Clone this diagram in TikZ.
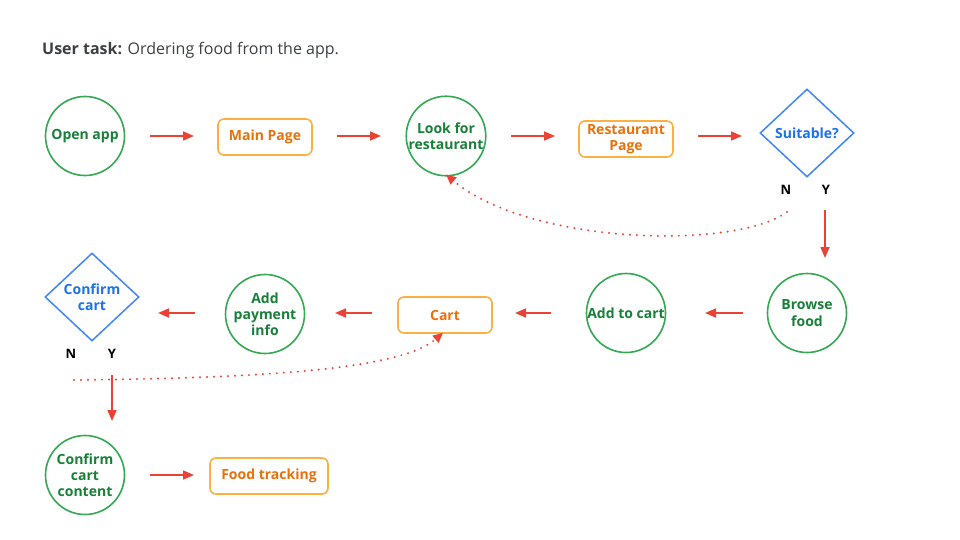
\documentclass[tikz,border=0pt]{standalone}
\usepackage{fontspec}
\setmainfont{Open Sans}
\usetikzlibrary{shapes.geometric,arrows.meta}
\definecolor{gstroke}{HTML}{34A853}
\definecolor{gtext}{HTML}{188038}
\definecolor{ostroke}{HTML}{FBB040}
\definecolor{otext}{HTML}{E8710A}
\definecolor{bstroke}{HTML}{4285F4}
\definecolor{btext}{HTML}{1A73E8}
\definecolor{rline}{HTML}{EA4335}
\definecolor{ttext}{HTML}{3C4043}
\tikzset{
  circ/.style={circle, draw=gstroke, line width=1.6pt, minimum size=79pt, inner sep=0pt,
    text=gtext, font=\fontsize{14}{16.2}\selectfont\bfseries, align=center},
  rbox/.style={rectangle, rounded corners=6pt, draw=ostroke, line width=1.6pt,
    minimum width=94pt, minimum height=36pt, inner sep=0pt,
    text=otext, font=\fontsize{14}{16.2}\selectfont\bfseries, align=center},
  dia/.style={diamond, draw=bstroke, line width=1.5pt, minimum width=94pt, minimum height=88pt,
    inner sep=0pt, text=btext, font=\fontsize{14}{16.2}\selectfont\bfseries, align=center},
  yn/.style={font=\fontsize{13}{15}\selectfont\bfseries, text=black, inner sep=0pt},
  flow/.style={draw=rline, line width=1.6pt, -{Triangle[length=11pt,width=9pt]}},
  dotflow/.style={draw=rline, line width=2.2pt, line cap=round, dash pattern=on 0pt off 7pt,
    -{Triangle[length=10pt,width=9pt]}},
}
\begin{document}
\begin{tikzpicture}[x=1pt,y=-1pt]
\useasboundingbox (0,0) rectangle (960,540);
\fill[white] (0,0) rectangle (960,540);
\node[anchor=base west, inner sep=0pt, text=ttext, font=\fontsize{16}{19}\selectfont] (title) at (42,55)
  {\textbf{User task:} Ordering food from the app.};

\node[circ] (open) at (85,136) {Open app};
\node[rbox] (main) at (265,137) {Main Page};
\node[circ] (look) at (446,136) {Look for\\restaurant};
\node[rbox] (rest) at (626,139) {Restaurant\\Page};
\node[dia] (suit) at (807,133) {Suitable?};
\node[yn] (n1) at (786,190) {N};
\node[yn] (y1) at (826,190) {Y};

\node[circ] (browse) at (807,313) {Browse\\food};
\node[circ] (add) at (626,313) {Add to cart};
\node[rbox] (cart) at (445,315) {Cart};
\node[circ] (pay) at (265,314) {Add\\payment\\info};
\node[dia] (conf) at (92,297) {Confirm\\cart};
\node[yn] (n2) at (71,354) {N};
\node[yn] (y2) at (112,354) {Y};

\node[circ] (cc) at (85,475) {Confirm\\cart\\content};
\node[rbox, minimum width=118pt] (track) at (269,476) {Food tracking};

\coordinate (a1s) at (150,136); \coordinate (a1e) at (194,136);
\coordinate (a2s) at (337,136); \coordinate (a2e) at (381,136);
\coordinate (a3s) at (511,136); \coordinate (a3e) at (555,136);
\coordinate (a4s) at (698,136); \coordinate (a4e) at (742,136);
\draw[flow] (a1s) -- (a1e);
\draw[flow] (a2s) -- (a2e);
\draw[flow] (a3s) -- (a3e);
\draw[flow] (a4s) -- (a4e);

\coordinate (ys1) at (825,210); \coordinate (ye1) at (825,258);
\draw[flow] (ys1) -- (ye1);

\coordinate (b1s) at (743,313); \coordinate (b1e) at (705,313);
\coordinate (b2s) at (551,313); \coordinate (b2e) at (515,313);
\coordinate (b3s) at (372,313); \coordinate (b3e) at (335,313);
\coordinate (b4s) at (195,313); \coordinate (b4e) at (158,313);
\draw[flow] (b1s) -- (b1e);
\draw[flow] (b2s) -- (b2e);
\draw[flow] (b3s) -- (b3e);
\draw[flow] (b4s) -- (b4e);

\coordinate (ys2) at (112,375); \coordinate (ye2) at (112,421);
\draw[flow] (ys2) -- (ye2);

\coordinate (c1s) at (150,475); \coordinate (c1e) at (194,475);
\draw[flow] (c1s) -- (c1e);

\coordinate (d1s) at (787,212);
\draw[dotflow] (d1s) .. controls (735,250) and (530,245) .. ([yshift=2pt]look.south);
\coordinate (d2s) at (74,380);
\draw[dotflow] (d2s) .. controls (260,378) and (400,370) .. ([xshift=-2pt,yshift=1pt]cart.south);
\end{tikzpicture}
\end{document}
